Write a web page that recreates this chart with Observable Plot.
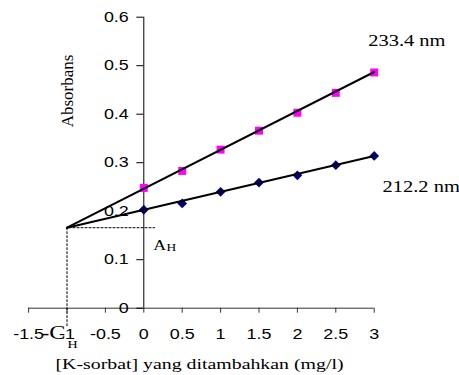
<!DOCTYPE html>
<html><head><meta charset="utf-8">
<script src="https://cdn.jsdelivr.net/npm/d3@7"></script>
<script src="https://cdn.jsdelivr.net/npm/@observablehq/plot@0.6"></script>
<style>body{margin:0;background:#fff}</style>
</head><body><div id="chart"></div>
<script>
// data
const conc = [0, 0.5, 1, 1.5, 2, 2.5, 3];
const abs233 = [0.248, 0.283, 0.327, 0.366, 0.403, 0.444, 0.486];
const abs212 = [0.203, 0.216, 0.240, 0.259, 0.274, 0.295, 0.314];
const fitX = [-1, 3];
const fit233 = [0.166, 0.487];
const fit212 = [0.166, 0.314];
const xTicks = [-1.5, -1, -0.5, 0, 0.5, 1, 1.5, 2, 2.5, 3];
const yTicks = [0, 0.1, 0.2, 0.3, 0.4, 0.5, 0.6];
const cH = -1, aH = 0.166, guideEndX = 0.14, guideEndY = -0.036;

const rows233 = conc.map((c, i) => ({c, a: abs233[i]}));
const rows212 = conc.map((c, i) => ({c, a: abs212[i]}));
const line233 = fitX.map((x, i) => ({x, y: fit233[i]}));
const line212 = fitX.map((x, i) => ({x, y: fit212[i]}));
const guide = [{x: cH, y: guideEndY}, {x: cH, y: aH}, {x: guideEndX, y: aH}];
const serif = "Liberation Serif";
const fmt = d => String(d);

const svg = Plot.plot({
  width: 459, height: 375,
  marginLeft: 143.3, marginRight: 85.3, marginTop: 16.7, marginBottom: 67.3,
  style: {fontFamily: "Liberation Sans", fontSize: "14px", background: "#fff", color: "#000"},
  x: {domain: [0, 3], axis: null},
  y: {domain: [0, 0.6], axis: null},
  marks: [
    Plot.ruleY([0], {x1: xTicks[0], x2: xTicks[xTicks.length - 1], stroke: "#333", strokeWidth: 1}),
    Plot.ruleX([0], {y1: yTicks[0], y2: yTicks[yTicks.length - 1], stroke: "#000", strokeWidth: 1}),
    Plot.axisX(xTicks, {anchor: "bottom", tickSize: 5, tickPadding: 16, tickFormat: fmt, label: null, stroke: "#333"}),
    Plot.axisY(yTicks, {anchor: "left", tickSize: 7, tickPadding: 8, tickFormat: fmt, label: null}),
    Plot.line(guide, {x: "x", y: "y", stroke: "#000", strokeWidth: 1, strokeDasharray: "2,2"}),
    Plot.dot(rows233, {x: "c", y: "a", symbol: "square", r: 4.5, fill: "#FF00FF", stroke: "none"}),
    Plot.dot(rows212, {x: "c", y: "a", symbol: "diamond2", r: 4.4, fill: "#000080", stroke: "none"}),
    Plot.line(line233, {x: "x", y: "y", stroke: "#000", strokeWidth: 2}),
    Plot.line(line212, {x: "x", y: "y", stroke: "#000", strokeWidth: 2}),
    Plot.text([{x: conc[6], y: abs233[6], t: "233.4 nm"}], {x: "x", y: "y", text: "t", textAnchor: "start", dx: -6, dy: -32, fontFamily: serif, fontSize: 16}),
    Plot.text([{x: conc[6], y: abs212[6], t: "212.2 nm"}], {x: "x", y: "y", text: "t", textAnchor: "start", dx: 8.3, dy: 31, fontFamily: serif, fontSize: 16}),
    Plot.text([{x: 0, y: aH, t: "A"}], {x: "x", y: "y", text: "t", textAnchor: "start", dx: 9.4, dy: 17.8, fontFamily: serif, fontSize: 14}),
    Plot.text([{x: 0, y: aH, t: "H"}], {x: "x", y: "y", text: "t", textAnchor: "start", dx: 22.7, dy: 20.4, fontFamily: serif, fontSize: 10.5}),
    Plot.text([{x: cH, y: 0, t: "-C"}], {x: "x", y: "y", text: "t", textAnchor: "end", dx: -1.5, dy: 25, fontFamily: serif, fontSize: 19}),
    Plot.text([{x: cH, y: 0, t: "H"}], {x: "x", y: "y", text: "t", textAnchor: "start", dx: 0.5, dy: 36.5, fontFamily: serif, fontSize: 11}),
    Plot.text(["Absorbans"], {frameAnchor: "top-left", textAnchor: "middle", lineAnchor: "middle", rotate: -90, dx: -76.3, dy: 73.8, fontFamily: serif, fontSize: 17}),
    Plot.text(["[K-sorbat] yang ditambahkan (mg/l)"], {frameAnchor: "bottom", textAnchor: "middle", lineAnchor: "middle", dx: -59.5, dy: 56, fontFamily: serif, fontSize: 15.5})
  ]
});

// the reference's lettering is stretched horizontally
d3.select(svg).selectAll("text").each(function () {
  const t = this.getAttribute("transform");
  if (t && !t.includes("rotate")) this.setAttribute("transform", t + " scale(1.28,1)");
});

document.getElementById("chart").appendChild(svg);
</script>
</body></html>
